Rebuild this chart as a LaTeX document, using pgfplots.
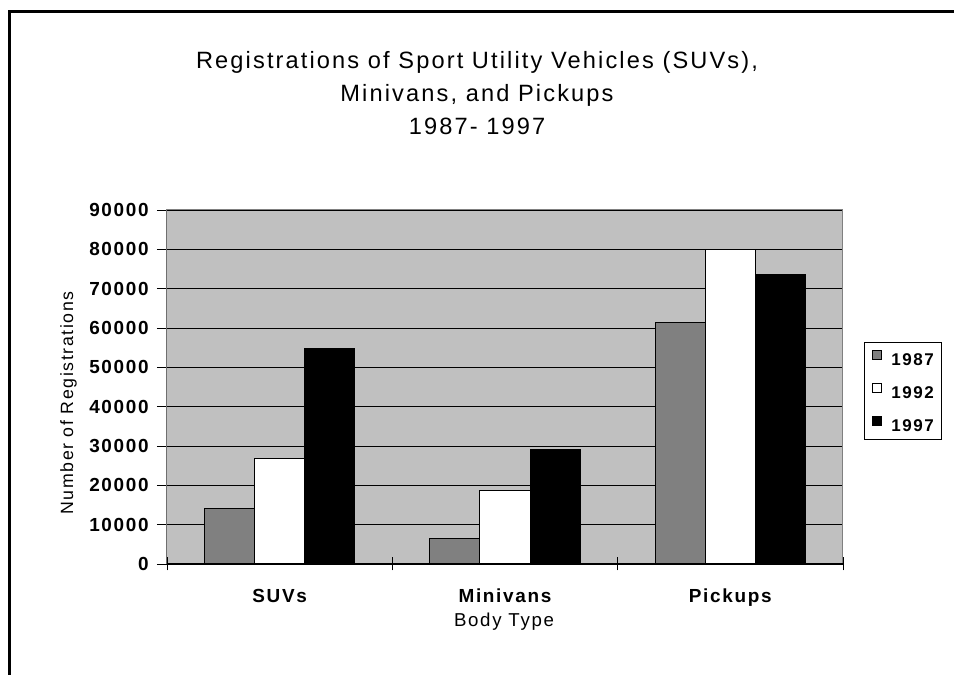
\documentclass[border=0pt]{standalone}
\usepackage{fontspec}
\setmainfont{Liberation Sans}[LetterSpace=9]
\usepackage{pgfplots}
\pgfplotsset{compat=1.18}
\definecolor{plotbg}{HTML}{C0C0C0}
\definecolor{bar87}{HTML}{808080}
\begin{document}
\begin{tikzpicture}
\path[use as bounding box] (0,0) rectangle (715.5pt,506.25pt);
\draw[line width=2.1pt] (7.3pt,-3pt) -- (7.3pt,497.8pt) -- (720pt,497.8pt);
\node[anchor=base, inner sep=0pt, font=\fontsize{17.7}{20}\selectfont] at (357.75pt,454.5pt) {Registrations of Sport Utility Vehicles (SUVs),};
\node[anchor=base, inner sep=0pt, font=\fontsize{17.7}{20}\selectfont] at (357.75pt,429.75pt) {Minivans, and Pickups};
\node[anchor=base, inner sep=0pt, font=\fontsize{17.7}{20}\selectfont] at (357.75pt,405pt) {1987- 1997};
\node[anchor=base, inner sep=0pt, font=\fontsize{14}{16}\selectfont] at (378pt,36pt) {Body Type};
\node[anchor=base, inner sep=0pt, rotate=90, font=\fontsize{13.3}{15}\selectfont] at (54.75pt,204pt) {Number of Registrations};
\begin{axis}[
  at={(125.25pt,83.25pt)}, anchor=south west,
  scale only axis, width=507pt, height=265.5pt,
  xmin=-0.5, xmax=2.5, ymin=0, ymax=90000,
  ytick={0,10000,...,90000}, scaled y ticks=false,
  xtick={0,1,2}, xticklabels={SUVs,Minivans,Pickups},
  xtick pos=bottom, ytick pos=left,
  x tick style={draw=none},
  extra x ticks={-0.5,0.5,1.5,2.5}, extra x tick labels={},
  extra x tick style={tick align=center, major tick length=9.75pt, xtick pos=bottom, x tick style={draw=black, line width=0.6pt}},
  y tick style={draw=black, line width=0.6pt},
  tick align=outside, major tick length=7.5pt,
  ymajorgrids, major grid style={black, line width=0.6pt},
  axis background/.style={fill=plotbg},
  axis line style={draw=bar87, line width=0.75pt},
  /pgf/number format/assume math mode=true,
  /pgf/number format/1000 sep={},
  tick label style={font=\bfseries\fontsize{14.2}{16}\selectfont},
  yticklabel style={anchor=east, inner sep=0pt, xshift=-6pt},
  xticklabel style={anchor=base, inner sep=0pt, yshift=-21.75pt},
  ybar, bar width=0.222,
  every axis plot/.append style={draw=black, line width=0.75pt},
  legend style={at={(1.0311,0.6271)}, anchor=north west, draw=black, line width=0.6pt, fill=white,
    font=\bfseries\fontsize{12.75}{14}\selectfont, inner xsep=6pt, inner ysep=6pt,
    row sep=13pt, column sep=7pt,
    nodes={inner sep=0pt, text height=9pt, text depth=0pt, anchor=west}},
  legend cell align=left,
  legend image code/.code={\draw[#1, line width=0.5pt] (0pt,0pt) rectangle (6.75pt,6.75pt);},
]
\addplot[fill=bar87, bar shift=-0.222] coordinates {(0,14000) (1,6400) (2,61400)};
\addplot[fill=white, bar shift=0] coordinates {(0,26900) (1,18800) (2,80000)};
\addplot[fill=black, bar shift=0.222] coordinates {(0,54900) (1,29000) (2,73600)};
\legend{1987,1992,1997}
\draw[black, line width=0.75pt] (rel axis cs:0,0) -- (rel axis cs:0,1);
\draw[black, line width=0.75pt] (rel axis cs:0,0) -- (rel axis cs:1,0);
\end{axis}
\end{tikzpicture}
\end{document}
